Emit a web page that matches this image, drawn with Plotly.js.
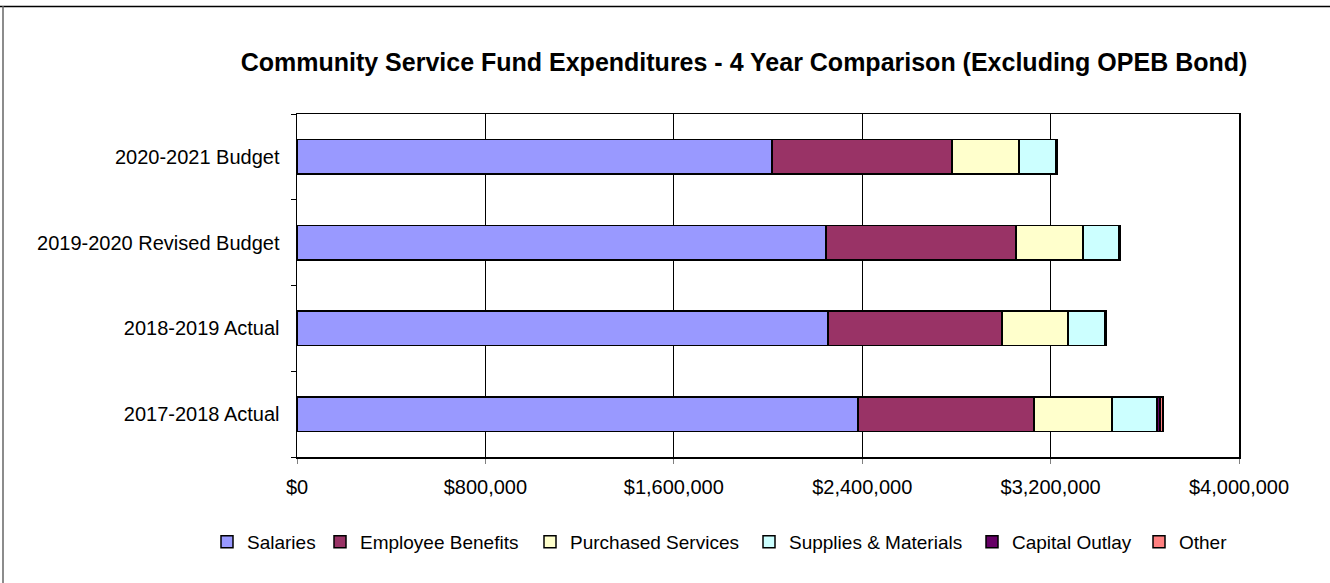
<!DOCTYPE html>
<html>
<head>
<meta charset="utf-8">
<script src="https://cdn.plot.ly/plotly-3.0.1.min.js"></script>
<style>html,body{margin:0;padding:0;background:#fff;}#chart{width:1330px;height:583px;}</style>
</head>
<body>
<div id="chart"></div>
<script>
const categories = ['2017-2018 Actual', '2018-2019 Actual', '2019-2020 Revised Budget', '2020-2021 Budget'];
const salaries = [2382000, 2255000, 2246000, 2017000];
const employeeBenefits = [748000, 739000, 807000, 764000];
const purchasedServices = [331000, 280000, 285000, 285000];
const suppliesMaterials = [191000, 157000, 153000, 157000];
const capitalOutlay = [13000, 7000, 6000, 6000];
const other = [12000, 0, 0, 0];
const xTickValues = [0, 800000, 1600000, 2400000, 3200000, 4000000];
const xTickLabels = ['$0', '$800,000', '$1,600,000', '$2,400,000', '$3,200,000', '$4,000,000'];

const seriesNames = ['Salaries', 'Employee Benefits', 'Purchased Services', 'Supplies & Materials', 'Capital Outlay', 'Other'];
const seriesValues = [salaries, employeeBenefits, purchasedServices, suppliesMaterials, capitalOutlay, other];
const colors = ['#9999FF', '#993366', '#FFFFCC', '#CCFFFF', '#660066', '#FF8080'];

const legendIds = ['legend', 'legend2', 'legend3', 'legend4', 'legend5', 'legend6'];
const traces = seriesNames.map((n, i) => ({
  type: 'bar',
  orientation: 'h',
  name: n,
  y: categories,
  x: seriesValues[i],
  legend: legendIds[i],
  marker: {color: colors[i], line: {color: '#000', width: 1.5}},
  hoverinfo: 'skip'
}));

const L = 297, R = 1239, T = 114, B = 457, W = 1330, H = 583;
const pw = R - L, ph = B - T;
const px = v => (v - L) / pw;
const py = v => (B - v) / ph;
const FONT = 'Liberation Sans, Arial, sans-serif';

const layout = {
  width: W, height: H,
  margin: {l: L, r: W - R, t: T, b: H - B, pad: 0},
  paper_bgcolor: '#fff', plot_bgcolor: '#fff',
  barmode: 'stack',
  bargap: 0.6,
  font: {family: FONT, color: '#000', size: 20},
  title: {
    text: '<b>Community Service Fund Expenditures - 4 Year Comparison (Excluding OPEB Bond)</b>',
    font: {size: 25, family: FONT, color: '#000'},
    x: 744 / W, xanchor: 'center', xref: 'container',
    y: 1 - 62 / H, yanchor: 'middle', yref: 'container'
  },
  xaxis: {
    range: [0, 4000000],
    tickvals: xTickValues, ticktext: xTickLabels,
    showgrid: true, gridcolor: '#000', gridwidth: 1,
    ticks: 'outside', ticklen: 5, tickcolor: '#808080',
    showline: true, linecolor: '#000', linewidth: 1.5, mirror: true,
    zeroline: false,
    ticklabelstandoff: 6,
    tickfont: {size: 20}
  },
  yaxis: {
    type: 'category',
    categoryorder: 'array', categoryarray: categories,
    showgrid: false,
    ticks: 'outside', ticklen: 5, tickcolor: '#000', tickson: 'boundaries',
    showline: true, linecolor: '#000', linewidth: 1.5, mirror: true,
    ticklabelstandoff: 12,
    tickfont: {size: 20}
  },
  showlegend: true,
  shapes: [
    {type: 'line', xref: 'paper', yref: 'paper', x0: px(0), x1: px(W), y0: py(6.5), y1: py(6.5), line: {color: '#000', width: 1.5}},
    {type: 'line', xref: 'paper', yref: 'paper', x0: px(3), x1: px(3), y0: py(6), y1: py(H), line: {color: '#666', width: 1.5}}
  ]
};

const legendTextStart = [247, 360, 570, 789, 1012, 1179];
legendIds.forEach((id, i) => {
  layout[id] = {
    orientation: 'h',
    xref: 'container', yref: 'container',
    x: (legendTextStart[i] - 40) / W, xanchor: 'left',
    y: 1 - 542 / H, yanchor: 'middle',
    font: {size: 19, family: FONT, color: '#000'},
    itemwidth: 30,
    bgcolor: 'rgba(0,0,0,0)',
    borderwidth: 0
  };
});

Plotly.newPlot('chart', traces, layout, {staticPlot: true, displayModeBar: false});
</script>
</body>
</html>
